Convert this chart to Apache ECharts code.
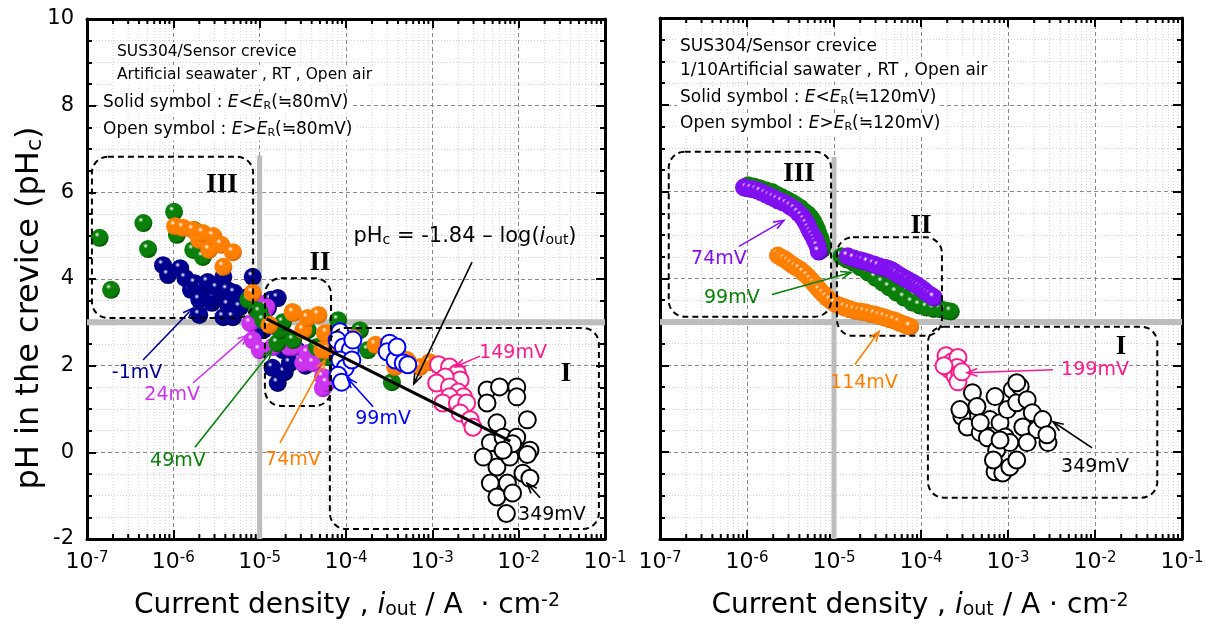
<!DOCTYPE html>
<html>
<head>
<meta charset="utf-8">
<title>Crevice pH vs outer current density</title>
<script src="https://cdn.jsdelivr.net/npm/echarts@6.0.0/dist/echarts.min.js"></script>
<style>
html,body{margin:0;padding:0;background:#fff;}
#chart{width:1213px;height:631px;}
</style>
</head>
<body>
<div id="chart"></div>
<script>
// ---------- measured points: [i_out (A/cm2), pHc] ----------
// Artificial seawater panel
const sw_m1mV = [[7.6e-7,4.32],[8.7e-7,4.09],[1.2e-6,4.25],[1.38e-6,4.02],[1.6e-6,3.75],[1.78e-6,3.90],[2.2e-6,3.82],[2.0e-6,3.52],[2.8e-6,3.45],[2.0e-6,3.17],[2.5e-6,3.93],[3.0e-6,3.58],[3.2e-6,3.79],[3.8e-6,3.12],[3.8e-6,4.05],[4.2e-6,3.75],[4.3e-6,3.40],[4.9e-6,3.12],[5.1e-6,3.68],[5.9e-6,3.35],[7.1e-6,3.58],[8.3e-6,4.05],[1.1e-5,2.82],[1.25e-5,3.33],[1.35e-5,3.52],[1.62e-5,3.56],[1.41e-5,1.95],[1.62e-5,1.60],[1.86e-5,2.36],[1.95e-5,1.85],[2.24e-5,2.06],[2.4e-5,2.59],[2.7e-5,2.36],[2.95e-5,2.13],[3.4e-5,2.0]];
const sw_24mV = [[7.8e-6,2.98],[9.5e-6,3.45],[1.2e-5,3.35],[1.1e-5,3.12],[8.3e-6,2.59],[1.0e-5,2.36],[1.41e-5,2.43],[1.7e-5,2.82],[2.1e-5,2.66],[2.2e-5,2.43],[2.45e-5,2.43],[3.2e-5,2.06],[3.6e-5,2.29],[4.2e-5,2.06],[5.4e-5,1.74],[5.4e-5,1.48],[6.0e-5,1.60]];
const sw_49mV = [[1.4e-7,4.95],[1.9e-7,3.75],[4.5e-7,5.29],[5.1e-7,4.69],[1.02e-6,5.55],[1.1e-6,5.02],[1.7e-6,4.67],[1.75e-6,5.13],[2.2e-6,4.51],[7.4e-6,3.52],[9.3e-6,3.28],[1.0e-5,3.24],[1.1e-5,3.05],[1.6e-5,2.52],[1.74e-5,2.82],[1.86e-5,3.0],[2.45e-5,2.59],[3.6e-5,2.82],[4.6e-5,2.43],[6.2e-5,2.2],[8.1e-5,3.05],[1.45e-4,2.82],[1.8e-4,2.36],[3.4e-4,1.62],[3.9e-4,2.36]];
const sw_74mV = [[1.05e-6,5.22],[1.3e-6,5.18],[1.7e-6,5.13],[2.0e-6,4.90],[2.2e-6,5.06],[2.6e-6,4.67],[2.9e-6,4.99],[3.6e-6,4.79],[3.8e-6,4.28],[4.9e-6,4.62],[8.3e-6,3.68],[1.3e-5,2.94],[2.4e-5,3.24],[2.45e-5,3.22],[3.2e-5,2.82],[3.6e-5,3.10],[4.8e-5,3.17],[5.3e-5,2.36],[5.7e-5,2.75],[6.0e-5,2.75],[6.2e-5,2.36],[1.2e-4,2.64],[2.2e-4,2.48],[3.7e-4,1.97],[5.1e-4,2.13],[7.2e-4,1.97],[9.3e-4,2.08]];
const sw_99mV = [[8.5e-5,2.78],[7.9e-5,2.59],[9.3e-5,2.43],[1.12e-4,2.36],[8.5e-5,2.13],[9.8e-5,1.95],[8.1e-5,1.78],[8.9e-5,1.62],[1.17e-4,2.13],[1.2e-4,2.59],[3.2e-4,2.52],[3.0e-4,2.32],[3.7e-4,2.13],[4.6e-4,2.06],[5.2e-4,2.02],[3.9e-4,2.43]];
const sw_149mV = [[1.18e-3,2.02],[1.58e-3,1.97],[1.95e-3,1.83],[2.1e-3,1.67],[1.41e-3,1.74],[1.12e-3,1.60],[1.58e-3,1.51],[2.0e-3,1.39],[2.3e-3,1.28],[1.58e-3,1.28],[1.32e-3,1.14],[1.95e-3,1.14],[2.5e-3,1.14],[2.1e-3,0.91],[2.75e-3,0.75],[2.95e-3,0.58]];
const sw_349mV = [[4.3e-3,1.44],[6.0e-3,1.51],[9.5e-3,1.51],[9.5e-3,1.28],[4.3e-3,1.14],[5.6e-3,0.68],[1.26e-2,0.75],[4.7e-3,0.22],[6.6e-3,0.35],[9.5e-3,0.35],[1.35e-2,0.05],[3.9e-3,-0.11],[5.6e-3,-0.34],[7.9e-3,-0.11],[1.26e-2,-0.05],[4.7e-3,-0.71],[7.4e-3,-0.71],[1.12e-2,-0.48],[5.6e-3,-1.03],[8.5e-3,-0.94],[1.35e-2,-0.6],[8.5e-3,0.2],[6.6e-3,0.05],[7.2e-3,-1.41]];

// 1/10 artificial seawater panel
const dsw_74mV = [[9.25e-7,6.10],[1.0e-6,6.08],[1.14e-6,6.06],[1.3e-6,6.03],[1.45e-6,5.99],[1.65e-6,5.94],[1.84e-6,5.89],[2.05e-6,5.85],[2.27e-6,5.80],[2.55e-6,5.76],[2.88e-6,5.71],[3.2e-6,5.65],[3.56e-6,5.59],[3.9e-6,5.51],[4.29e-6,5.43],[4.6e-6,5.34],[4.89e-6,5.25],[5.15e-6,5.15],[5.42e-6,5.06],[5.7e-6,4.98],[6.0e-6,4.90],[6.25e-6,4.82],[6.5e-6,4.74],[6.7e-6,4.62],
  [1.44e-5,4.51],[1.7e-5,4.46],[2.0e-5,4.42],[2.2e-5,4.40],[2.46e-5,4.37],[2.9e-5,4.32],[3.29e-5,4.28],[3.8e-5,4.25],[4.1e-5,4.23],[4.4e-5,4.21],[4.7e-5,4.18],[5.0e-5,4.14],[5.4e-5,4.10],[5.9e-5,4.05],[6.3e-5,4.02],[6.8e-5,3.98],[7.3e-5,3.95],[7.9e-5,3.91],[8.4e-5,3.88],[9.0e-5,3.84],[9.7e-5,3.80],[1.05e-4,3.75],[1.12e-4,3.70],[1.2e-4,3.65],[1.3e-4,3.61],[1.41e-4,3.56]];
const dsw_99mV = [[1.03e-6,6.15],[1.2e-6,6.12],[1.41e-6,6.08],[1.65e-6,6.03],[1.94e-6,5.99],[2.2e-6,5.93],[2.52e-6,5.87],[2.9e-6,5.81],[3.29e-6,5.75],[3.65e-6,5.69],[4.06e-6,5.63],[4.5e-6,5.55],[5.02e-6,5.48],[5.4e-6,5.40],[5.74e-6,5.32],[6.1e-6,5.22],[6.38e-6,5.13],[6.6e-6,5.04],[6.9e-6,4.95],[7.1e-6,4.87],[7.3e-6,4.79],[7.3e-6,4.67],
  [1.22e-5,4.51],[1.4e-5,4.44],[1.66e-5,4.37],[2.0e-5,4.26],[2.46e-5,4.14],[3.0e-5,4.02],[3.6e-5,3.91],[4.3e-5,3.80],[5.2e-5,3.68],[6.4e-5,3.56],[7.9e-5,3.45],[9.6e-5,3.38],[1.17e-4,3.33],[1.4e-4,3.30],[1.7e-4,3.29],[1.95e-4,3.26],[2.2e-4,3.24]];
const dsw_114mV = [[2.27e-6,4.53],[2.5e-6,4.48],[2.73e-6,4.44],[3.0e-6,4.38],[3.29e-6,4.32],[3.65e-6,4.26],[4.06e-6,4.21],[4.5e-6,4.13],[5.0e-6,4.05],[5.45e-6,3.96],[5.9e-6,3.88],[6.4e-6,3.80],[6.9e-6,3.72],[7.6e-6,3.64],[8.3e-6,3.56],[9.2e-6,3.49],[1.03e-5,3.42],[1.18e-5,3.37],[1.34e-5,3.33],[1.53e-5,3.29],[1.74e-5,3.26],[2.0e-5,3.24],[2.27e-5,3.22],[2.6e-5,3.19],[2.96e-5,3.17],[3.4e-5,3.13],[3.86e-5,3.10],[4.4e-5,3.06],[5.0e-5,3.03],[5.7e-5,2.98],[6.5e-5,2.94],[7.0e-5,2.91],[7.5e-5,2.89]];
const dsw_199mV = [[1.94e-4,2.22],[2.27e-4,2.08],[2.66e-4,2.18],[2.15e-4,1.90],[2.6e-4,1.95],[2.46e-4,1.76],[2.8e-4,1.81],[2.66e-4,1.62],[2.95e-4,1.85],[1.84e-4,1.99]];
const dsw_349mV = [[2.95e-4,0.82],[3.4e-4,0.58],[3.9e-4,1.37],[4.4e-4,1.05],[4.8e-4,0.45],[5.8e-4,0.33],[6.2e-4,0.75],[7.1e-4,1.28],[7.4e-4,0.05],[8.1e-4,0.68],[9.3e-4,0.35],[7.1e-4,-0.45],[8.7e-4,-0.48],[1.05e-3,-0.34],[1.12e-3,1.44],[9.8e-4,0.98],[1.26e-3,1.14],[1.38e-3,1.51],[1.26e-3,-0.18],[1.48e-3,0.58],[1.66e-3,1.21],[1.9e-3,0.91],[2.15e-3,0.52],[2.5e-3,0.75],[2.88e-3,0.22],[2.8e-3,0.40],[1.66e-3,0.22],[1.05e-3,0.22],[6.8e-4,-0.18],[8.1e-4,0.28],[1.26e-3,1.6],[4.8e-4,0.68],[2.8e-4,0.98]];

// fitted relation drawn in the seawater panel: pHc = -1.84 - log(i_out)
const FIT_A = -1.84;
const fitRange = [1.2e-5, 8e-3];

// axis settings
const X_DECADES = [-7, -1];
const Y_RANGE = [-2, 10];
const Y_STEP = 2;

// ---------- colours ----------
const NAVY = '#00008f', MAGENTA = '#cc33ee', GREEN = '#0a800a', ORANGE = '#ff8000',
      BLUE = '#0000ff', PINK = '#ff1a8c', BLACK = '#000000', PURPLE = '#8010f0';
const FONT = 'DejaVu Sans';

const lg = Math.log10;
const toXY = arr => arr.map(p => [lg(p[0]), p[1]]);

function sphere(base, dark) {
  return { type: 'radial', x: 0.36, y: 0.32, r: 0.72, colorStops: [
    { offset: 0, color: '#ffffff' }, { offset: 0.2, color: base }, { offset: 0.75, color: base }, { offset: 1, color: dark }] };
}
function solid(name, data, base, dark, gi, z) {
  return { name, type: 'scatter', xAxisIndex: gi * 2, yAxisIndex: gi * 2, data: toXY(data),
    symbol: 'circle', symbolSize: 18, z: z || 3, itemStyle: { color: sphere(base, dark), opacity: 1 } };
}
function open(name, data, color, gi, z) {
  return { name, type: 'scatter', xAxisIndex: gi * 2, yAxisIndex: gi * 2, data: toXY(data),
    symbol: 'circle', symbolSize: 17, z: z || 4, itemStyle: { color: '#fff', borderColor: color, borderWidth: 2, opacity: 1 } };
}

// ---------- annotations (positions in data units) ----------
const regionBoxes = [ // [gridIndex, i1, ph1, i2, ph2]
  [0, 1.14e-7, 6.82, 8.4e-6, 3.10], [0, 1.15e-5, 4.02, 6.7e-5, 1.07], [0, 6.5e-5, 2.87, 8.5e-2, -1.77],
  [1, 1.26e-7, 6.92, 9.25e-6, 3.12], [1, 1.08e-5, 4.95, 1.74e-4, 2.68], [1, 1.2e-4, 2.89, 5.2e-2, -1.05]
];
const regionTags = [ // [gridIndex, i, ph, text]
  [0, 3.66e-6, 6.17, 'III'], [0, 5.0e-5, 4.37, 'II'], [0, 3.53e-2, 1.81, 'I'],
  [1, 3.96e-6, 6.40, 'III'], [1, 1.0e-4, 5.20, 'II'], [1, 1.99e-2, 2.43, 'I']
];
const arrows = [ // [gridIndex, iFrom, phFrom, iTo, phTo, colour]
  [0, 4.46e-7, 2.13, 1.69e-6, 3.33, NAVY],
  [0, 1.69e-6, 1.60, 7.3e-6, 2.71, MAGENTA],
  [0, 1.78e-6, 0.12, 1.39e-5, 2.36, GREEN],
  [0, 1.72e-5, 0.22, 5.7e-5, 2.13, ORANGE],
  [0, 2.06e-4, 1.05, 1.03e-4, 1.72, BLUE],
  [0, 3.56e-3, 2.22, 1.83e-3, 1.97, PINK],
  [0, 1.77e-2, -1.05, 1.25e-2, -0.71, BLACK],
  [0, 2.88e-3, 4.39, 6.1e-4, 1.58, BLACK],
  [1, 8.1e-7, 4.74, 2.66e-6, 5.34, PURPLE],
  [1, 1.94e-6, 3.63, 1.57e-5, 4.14, GREEN],
  [1, 1.74e-5, 2.02, 3.29e-5, 2.78, ORANGE],
  [1, 3.29e-3, 1.90, 3.38e-4, 1.83, PINK],
  [1, 9.25e-3, 0.10, 3.29e-3, 0.70, BLACK]
];
const potLabels = [ // [gridIndex, i, ph, text, colour]
  [0, 3.8e-7, 1.83, '-1mV', NAVY],
  [0, 9.7e-7, 1.32, '24mV', MAGENTA],
  [0, 1.13e-6, -0.20, '49mV', GREEN],
  [0, 2.43e-5, -0.18, '74mV', ORANGE],
  [0, 2.69e-4, 0.77, '99mV', BLUE],
  [0, 8.6e-3, 2.29, '149mV', PINK],
  [0, 2.43e-2, -1.45, '349mV', BLACK],
  [1, 4.76e-7, 4.44, '74mV', PURPLE],
  [1, 6.7e-7, 3.56, '99mV', GREEN],
  [1, 2.21e-5, 1.60, '114mV', ORANGE],
  [1, 1.0e-2, 1.88, '199mV', PINK],
  [1, 1.0e-2, -0.34, '349mV', BLACK]
];
const fitLabelAt = [1.22e-4, 4.97];

// ---------- axes ----------
function xAxis(gi, pos) {
  const bottom = pos === 'bottom';
  return {
    type: 'value', gridIndex: gi, position: pos, min: X_DECADES[0], max: X_DECADES[1], interval: 1,
    axisLine: { show: true, onZero: false, lineStyle: { color: '#000', width: 3 } },
    axisTick: { show: true, inside: true, length: 9, lineStyle: { color: '#000', width: 2 } },
    axisLabel: bottom ? {
      show: true, margin: 12, formatter: v => '{b|10}{s|' + v + '}',
      rich: { b: { fontSize: 22, fontFamily: FONT, color: '#000' },
              s: { fontSize: 15, fontFamily: FONT, color: '#000', verticalAlign: 'top' } }
    } : { show: false },
    splitLine: bottom ? { show: true, lineStyle: { color: '#8a8a8a', width: 1, type: [4, 3] } } : { show: false }
  };
}
function yAxis(gi, pos, labels) {
  const left = pos === 'left';
  return {
    type: 'value', gridIndex: gi, position: pos, min: Y_RANGE[0], max: Y_RANGE[1], interval: Y_STEP,
    axisLine: { show: true, onZero: false, lineStyle: { color: '#000', width: 3 } },
    axisTick: { show: true, inside: true, length: 9, lineStyle: { color: '#000', width: 2 } },
    minorTick: { show: true, splitNumber: 4, length: 5, lineStyle: { color: '#000', width: 2 } },
    axisLabel: labels ? { show: true, margin: 13, fontSize: 21, fontFamily: FONT, color: '#000' } : { show: false },
    splitLine: left ? { show: true, lineStyle: { color: '#8a8a8a', width: 1, type: [4, 3] } } : { show: false },
    minorSplitLine: left ? { show: true, lineStyle: { color: '#d2d2d2', width: 1, type: [1, 2] } } : { show: false }
  };
}

// logarithmic minor grid and ticks (2..9 in every decade)
const minorX = [];
for (let d = X_DECADES[0]; d < X_DECADES[1]; d++) for (let k = 2; k <= 9; k++) minorX.push([d + lg(k), 0]);
function minorRender(params, api) {
  const x = api.value(0);
  const b = api.coord([x, Y_RANGE[0]]), t = api.coord([x, Y_RANGE[1]]);
  return { type: 'group', children: [
    { type: 'line', shape: { x1: b[0], y1: b[1], x2: t[0], y2: t[1] }, style: { stroke: '#d2d2d2', lineWidth: 1, lineDash: [1, 2] } },
    { type: 'line', shape: { x1: b[0], y1: b[1], x2: b[0], y2: b[1] - 5 }, style: { stroke: '#000', lineWidth: 2 } },
    { type: 'line', shape: { x1: t[0], y1: t[1], x2: t[0], y2: t[1] + 5 }, style: { stroke: '#000', lineWidth: 2 } }
  ] };
}
function minorSeries(gi) {
  return { type: 'custom', xAxisIndex: gi * 2, yAxisIndex: gi * 2, data: minorX, renderItem: minorRender, silent: true, z: 0, clip: false };
}

// reference lines: i_out = 1e-5 A/cm2 and pHc = 3
function refLines(gi, top) {
  const s = { type: 'line', xAxisIndex: gi * 2, yAxisIndex: gi * 2, symbol: 'none', silent: true, z: 1,
    lineStyle: { color: '#bdbdbd', width: 6 } };
  return [
    Object.assign({}, s, { data: [[lg(1e-5), top], [lg(1e-5), Y_RANGE[0]]], lineStyle: { color: '#bdbdbd', width: 5 } }),
    Object.assign({}, s, { data: [[X_DECADES[0], 3], [X_DECADES[1], 3]] })
  ];
}

function boxSeries(gi) {
  const list = regionBoxes.filter(b => b[0] === gi);
  return { type: 'custom', xAxisIndex: gi * 2, yAxisIndex: gi * 2, silent: true, z: 6, clip: false,
    data: list.map(b => [lg(b[1]), b[2], lg(b[3]), b[4]]),
    renderItem: (p, api) => {
      const a = api.coord([api.value(0), api.value(1)]), c = api.coord([api.value(2), api.value(3)]);
      return { type: 'rect', shape: { x: a[0], y: a[1], width: c[0] - a[0], height: c[1] - a[1], r: 16 },
        style: { fill: null, stroke: '#000', lineWidth: 2, lineDash: [6, 4] } };
    } };
}
function tagSeries(gi) {
  const list = regionTags.filter(b => b[0] === gi);
  return { type: 'custom', xAxisIndex: gi * 2, yAxisIndex: gi * 2, silent: true, z: 7, clip: false,
    data: list.map(b => [lg(b[1]), b[2]]),
    renderItem: (p, api) => {
      const a = api.coord([api.value(0), api.value(1)]);
      return { type: 'text', style: { text: list[p.dataIndex][3], x: a[0], y: a[1], align: 'center', verticalAlign: 'middle',
        font: 'bold 27px "Liberation Serif"', fill: '#000' } };
    } };
}
function arrowSeries(gi) {
  const list = arrows.filter(b => b[0] === gi);
  return { type: 'custom', xAxisIndex: gi * 2, yAxisIndex: gi * 2, silent: true, z: 8, clip: false,
    data: list.map(b => [lg(b[1]), b[2], lg(b[3]), b[4]]),
    renderItem: (p, api) => {
      const col = list[p.dataIndex][5];
      const a = api.coord([api.value(0), api.value(1)]), c = api.coord([api.value(2), api.value(3)]);
      const ang = Math.atan2(c[1] - a[1], c[0] - a[0]), h = 11, w = 0.36;
      const l1 = [c[0] - h * Math.cos(ang - w), c[1] - h * Math.sin(ang - w)];
      const l2 = [c[0] - h * Math.cos(ang + w), c[1] - h * Math.sin(ang + w)];
      return { type: 'group', children: [
        { type: 'line', shape: { x1: a[0], y1: a[1], x2: c[0], y2: c[1] }, style: { stroke: col, lineWidth: 1.6 } },
        { type: 'polyline', shape: { points: [l1, c, l2] }, style: { stroke: col, fill: null, lineWidth: 1.6 } }
      ] };
    } };
}
function labelSeries(gi) {
  const list = potLabels.filter(b => b[0] === gi);
  return { type: 'custom', xAxisIndex: gi * 2, yAxisIndex: gi * 2, silent: true, z: 9, clip: false,
    data: list.map(b => [lg(b[1]), b[2]]),
    renderItem: (p, api) => {
      const a = api.coord([api.value(0), api.value(1)]);
      const it = list[p.dataIndex];
      return { type: 'text', style: { text: it[3], x: a[0], y: a[1], align: 'center', verticalAlign: 'middle',
        font: '19px "DejaVu Sans"', fill: it[4] } };
    } };
}

const fitSeries = {
  type: 'line', xAxisIndex: 0, yAxisIndex: 0, symbol: 'none', silent: true, z: 6,
  data: fitRange.map(i => [lg(i), FIT_A - lg(i)]), lineStyle: { color: '#000', width: 3 }
};
const fitLabel = {
  type: 'custom', xAxisIndex: 0, yAxisIndex: 0, silent: true, z: 9, clip: false,
  data: [[lg(fitLabelAt[0]), fitLabelAt[1]]],
  renderItem: (p, api) => {
    const a = api.coord([api.value(0), api.value(1)]);
    return { type: 'text', style: {
      text: '{n|pH}{sb|c}{n| = -1.84 – log(}{it|i}{sb|out}{n|)}', x: a[0], y: a[1], align: 'left', verticalAlign: 'middle',
      rich: { n: { fontSize: 21, fontFamily: FONT, fill: '#000' },
              it: { fontSize: 21, fontFamily: FONT, fontStyle: 'italic', fill: '#000' },
              sb: { fontSize: 14, fontFamily: FONT, fill: '#000', verticalAlign: 'bottom' } } } };
  }
};

// ---------- text blocks ----------
function richInfo(size) {
  return {
    t: { fontSize: size, fontFamily: FONT, fill: '#000', color: '#000' },
    it: { fontSize: size, fontFamily: FONT, fontStyle: 'italic', fill: '#000', color: '#000' },
    sb: { fontSize: Math.round(size * 0.65), fontFamily: FONT, fill: '#000', color: '#000', verticalAlign: 'bottom' }
  };
}
function info(x, y, text, size) {
  return { type: 'text', x, y, z: 100, silent: true,
    style: { text, rich: richInfo(size), align: 'left', verticalAlign: 'middle', textAlign: 'left', textVerticalAlign: 'middle',
      backgroundColor: '#fff', padding: [2, 3] } };
}
function richTitle(size) {
  const sub = Math.round(size * 0.68);
  return {
    t: { fontSize: size, fontFamily: FONT, fill: '#000', color: '#000' },
    it: { fontSize: size, fontFamily: FONT, fontStyle: 'italic', fill: '#000', color: '#000' },
    sb: { fontSize: sub, fontFamily: FONT, fill: '#000', color: '#000', verticalAlign: 'bottom' },
    sp: { fontSize: sub, fontFamily: FONT, fill: '#000', color: '#000', verticalAlign: 'top' }
  };
}
function title(x, y, text, size, rot) {
  return { type: 'text', x, y, rotation: rot || 0, z: 100, silent: true,
    style: { text, rich: richTitle(size), align: 'center', verticalAlign: 'middle', textAlign: 'center', textVerticalAlign: 'middle' } };
}

const chart = echarts.init(document.getElementById('chart'), null, { renderer: 'canvas' });
chart.setOption({
  animation: false,
  backgroundColor: '#fff',
  grid: [
    { left: 87, top: 19, width: 518, height: 520, containLabel: false },
    { left: 660, top: 18, width: 522, height: 521, containLabel: false }
  ],
  xAxis: [xAxis(0, 'bottom'), xAxis(0, 'top'), xAxis(1, 'bottom'), xAxis(1, 'top')],
  yAxis: [yAxis(0, 'left', true), yAxis(0, 'right', false), yAxis(1, 'left', false), yAxis(1, 'right', false)],
  series: [
    minorSeries(0), minorSeries(1),
    ...refLines(0, 6.85), ...refLines(1, 6.8),
    solid('-1mV', sw_m1mV, NAVY, '#000050', 0),
    solid('24mV', sw_24mV, MAGENTA, '#9010b8', 0),
    solid('49mV', sw_49mV, GREEN, '#004a00', 0),
    solid('74mV', sw_74mV, ORANGE, '#d06000', 0),
    open('99mV', sw_99mV, BLUE, 0),
    open('149mV', sw_149mV, PINK, 0),
    open('349mV', sw_349mV, BLACK, 0),
    solid('99mV', dsw_99mV, GREEN, '#004a00', 1),
    solid('74mV', dsw_74mV, PURPLE, '#5000b0', 1),
    solid('114mV', dsw_114mV, ORANGE, '#d06000', 1),
    open('349mV', dsw_349mV, BLACK, 1),
    open('199mV', dsw_199mV, PINK, 1, 5),
    fitSeries, fitLabel,
    boxSeries(0), boxSeries(1), tagSeries(0), tagSeries(1),
    arrowSeries(0), arrowSeries(1), labelSeries(0), labelSeries(1)
  ],
  graphic: [
    info(114, 52, '{t|SUS304/Sensor crevice}', 15.5),
    info(114, 75, '{t|Artificial seawater , RT , Open air}', 15.5),
    info(100, 103, '{t|Solid symbol : }{it|E}{t|<}{it|E}{sb|R}{t|(≒80mV)}', 17),
    info(100, 130, '{t|Open symbol : }{it|E}{t|>}{it|E}{sb|R}{t|(≒80mV)}', 17),
    info(677, 47, '{t|SUS304/Sensor crevice}', 17),
    info(677, 71, '{t|1/10Artificial sawater , RT , Open air}', 17),
    info(677, 98, '{t|Solid symbol : }{it|E}{t|<}{it|E}{sb|R}{t|(≒120mV)}', 17),
    info(677, 124, '{t|Open symbol : }{it|E}{t|>}{it|E}{sb|R}{t|(≒120mV)}', 17),
    title(347, 606, '{t|Current density , }{it|i}{sb|out}{t| / A  · cm}{sp|-2}', 28),
    title(920, 606, '{t|Current density , }{it|i}{sb|out}{t| / A · cm}{sp|-2}', 28),
    title(30, 308, '{t|pH in the crevice (pH}{sb|c}{t|)}', 32, Math.PI / 2)
  ]
});
</script>
</body>
</html>
